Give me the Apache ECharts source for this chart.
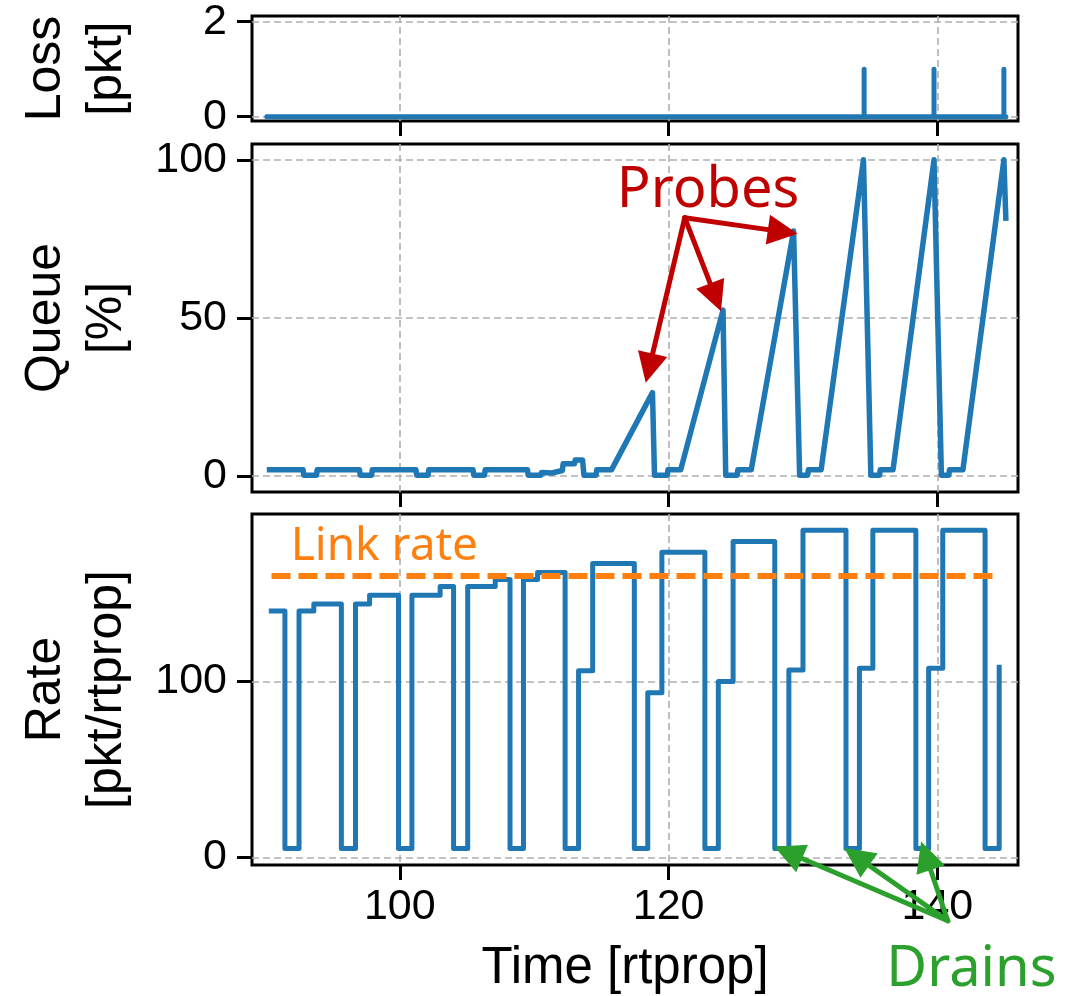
<!DOCTYPE html>
<html>
<head>
<meta charset="utf-8">
<script src="https://cdn.jsdelivr.net/npm/echarts@6/dist/echarts.min.js"></script>
<style>
  html, body { margin: 0; padding: 0; background: #fff; }
  #chart { width: 1082px; height: 996px; }
</style>
</head>
<body>
<div id="chart"></div>
<script>
// values (time in rtprop)
const xTicks = [100, 120, 140]
const lossTicks = [0, 2]
const queueTicks = [0, 50, 100]
const rateTicks = [0, 100]

const lossTime = [90.1, 134.55, 134.55, 134.55, 139.75, 139.75, 139.75, 144.95, 144.95, 144.95, 145.1]
const lossPkt = [0, 0, 1, 0, 0, 1, 0, 0, 1, 0, 0]

const queueTime = [90.1, 92.8, 92.85, 93.8, 93.85, 97.0, 97.05, 97.9, 97.95, 101.2,
  101.25, 102.1, 102.15, 105.45, 105.5, 106.3, 106.35, 109.5, 109.55, 110.5,
  110.55, 111.3, 112.1, 112.15, 113.0, 113.05, 113.6, 113.7, 114.6, 114.65,
  115.75, 118.8, 118.95, 119.9, 119.95, 120.9, 124.05, 124.25, 125.1, 125.15,
  126.15, 129.3, 129.75, 130.35, 130.4, 131.35, 134.5, 135.05, 135.7, 135.75,
  136.7, 139.75, 140.3, 140.85, 140.9, 141.9, 144.95, 145.1]
const queuePct = [2, 2, 0.3, 0.3, 2, 2, 0.3, 0.3, 2, 2,
  0.3, 0.3, 2, 2, 0.3, 0.3, 2, 2, 0.3, 0.3,
  1.2, 1.0, 1.8, 3.9, 3.9, 5.1, 5.1, 0.3, 0.3, 2,
  2, 26.4, 0.3, 0.3, 2, 2, 52.5, 0.3, 0.3, 2,
  2, 77.5, 0.3, 0.3, 2, 2, 100, 0.3, 0.3, 2,
  2, 100, 0.3, 0.3, 2, 2, 100, 80.7]

// pacing rate, value holds from each time on
const rateTime = [90.25, 91.45, 92.5, 93.6, 95.65, 96.7, 97.75, 99.9, 100.9, 103.0,
  104.0, 105.05, 107.1, 108.2, 109.2, 110.25, 112.3, 113.3, 114.35, 117.45,
  118.45, 119.5, 122.7, 123.7, 124.8, 127.9, 128.95, 130.0, 133.2, 134.2,
  135.2, 138.4, 139.35, 140.4, 143.55, 144.6]
const rateValue = [140, 5, 140, 144, 5, 144, 149, 5, 149, 154,
  5, 154, 158, 5, 158, 162, 5, 106, 167, 5,
  93.5, 173.5, 5, 100, 179.5, 5, 106.5, 186, 5, 107.5,
  186, 5, 107.5, 186, 5, 109.5]

const linkRate = 160
const linkSpan = [90.45, 144.5]

// annotations (data coords of their panel)
const probeFrom = [121.2, 81.7]
const probeTips = [[118.3, 29.5], [123.9, 52.1], [129.6, 76.6]]
const probeText = [122.94, 90]
const drainFrom = [140.77, -36.1]
const drainTips = [[127.88, 6.0], [133.09, 5.1], [138.79, 8.9]]
const drainText = [142.53, -64.2]
const linkText = [98.85, 176.4]

const zip = (a, b) => a.map((v, i) => [v, b[i]])

const blue = '#1f77b4'
const tickFont = "'Liberation Sans', sans-serif"
const nameFont = "'Liberation Sans', sans-serif"
const noteFont = "'Noto Sans', sans-serif"
const gridLine = { show: true, lineStyle: { color: '#b0b0b0', width: 1.6, type: [7, 4] } }

function xAxisAt(i, last) {
  return {
    type: 'value', gridIndex: i, min: 89, max: 146,
    axisLine: { show: false, onZero: false },
    axisTick: { show: true, inside: false, length: 15, customValues: xTicks, lineStyle: { color: '#000', width: 3 } },
    axisLabel: { show: last, customValues: xTicks, margin: 21, color: '#000', fontSize: 43, fontFamily: tickFont },
    splitLine: gridLine,
    name: last ? 'Time [rtprop]' : '',
    nameLocation: 'middle', nameGap: 78,
    nameTextStyle: { color: '#000', fontSize: 51, fontFamily: nameFont, padding: [0, 20, 0, 0] }
  }
}

function yAxisAt(i, min, max, ticks, name) {
  return {
    type: 'value', gridIndex: i, min: min, max: max,
    axisLine: { show: false, onZero: false },
    axisTick: { show: true, inside: false, length: 15, customValues: ticks, lineStyle: { color: '#000', width: 3 } },
    axisLabel: { customValues: ticks, margin: 25, color: '#000', fontSize: 43, fontFamily: tickFont },
    splitLine: gridLine,
    name: name, nameLocation: 'middle', nameRotate: 90, nameGap: 114,
    nameTextStyle: { color: '#000', fontSize: 50, lineHeight: 61, fontFamily: nameFont }
  }
}

function arrows(i, from, tips, color, label, labelAt, size) {
  return {
    type: 'custom', xAxisIndex: i, yAxisIndex: i, clip: false, silent: true, z: 10,
    data: tips,
    renderItem(params, api) {
      const p0 = api.coord(from)
      const p1 = api.coord([api.value(0), api.value(1)])
      const dx = p1[0] - p0[0], dy = p1[1] - p0[1]
      const len = Math.hypot(dx, dy)
      const ux = dx / len, uy = dy / len
      const bx = p1[0] - ux * 30, by = p1[1] - uy * 30
      const kids = [
        { type: 'line', shape: { x1: p0[0], y1: p0[1], x2: bx, y2: by }, style: { stroke: color, lineWidth: 5, lineCap: 'round' } },
        { type: 'polygon', shape: { points: [[p1[0], p1[1]], [bx - uy * 15, by + ux * 15], [bx + uy * 15, by - ux * 15]] }, style: { fill: color } }
      ]
      if (params.dataIndex === 0) {
        const t = api.coord(labelAt)
        kids.push({ type: 'text', x: t[0], y: t[1], style: { text: label, fill: color, fontSize: size, fontFamily: noteFont, align: 'center', verticalAlign: 'middle' } })
      }
      return { type: 'group', children: kids }
    }
  }
}

const frame = { show: true, borderColor: '#000', borderWidth: 3, backgroundColor: 'transparent', left: 252, width: 766 }

const chart = echarts.init(document.getElementById('chart'))
chart.setOption({
  animation: false,
  grid: [
    Object.assign({ top: 16, height: 105 }, frame),
    Object.assign({ top: 144, height: 348 }, frame),
    Object.assign({ top: 514, height: 351 }, frame)
  ],
  xAxis: [xAxisAt(0, false), xAxisAt(1, false), xAxisAt(2, true)],
  yAxis: [
    yAxisAt(0, -0.09, 2.12, lossTicks, 'Loss\n[pkt]'),
    yAxisAt(1, -5, 105, queueTicks, 'Queue\n[%]'),
    yAxisAt(2, -4.4, 195.2, rateTicks, 'Rate\n[pkt/rtprop]')
  ],
  series: [
    {
      type: 'line', xAxisIndex: 0, yAxisIndex: 0, symbol: 'none',
      data: zip(lossTime, lossPkt),
      lineStyle: { color: blue, width: 5, cap: 'round', join: 'round' }
    },
    {
      type: 'line', xAxisIndex: 1, yAxisIndex: 1, symbol: 'none',
      data: zip(queueTime, queuePct),
      lineStyle: { color: blue, width: 5.5, join: 'round' }
    },
    {
      type: 'line', xAxisIndex: 2, yAxisIndex: 2, symbol: 'none', step: 'end',
      data: zip(rateTime, rateValue),
      lineStyle: { color: blue, width: 5, join: 'round' }
    },
    {
      type: 'line', xAxisIndex: 2, yAxisIndex: 2, symbol: 'none', z: 3,
      data: linkSpan.map(t => [t, linkRate]),
      lineStyle: { color: '#ff7f0e', width: 6, type: [19, 8] }
    },
    arrows(1, probeFrom, probeTips, '#c00000', 'Probes', probeText, 56),
    arrows(2, drainFrom, drainTips, '#2ca02c', 'Drains', drainText, 56),
    {
      type: 'custom', xAxisIndex: 2, yAxisIndex: 2, clip: false, silent: true, z: 10,
      data: [linkText],
      renderItem(params, api) {
        const t = api.coord([api.value(0), api.value(1)])
        return { type: 'text', x: t[0], y: t[1], style: { text: 'Link rate', fill: '#ff7f0e', fontSize: 46, fontFamily: noteFont, align: 'center', verticalAlign: 'middle' } }
      }
    }
  ]
})
</script>
</body>
</html>
